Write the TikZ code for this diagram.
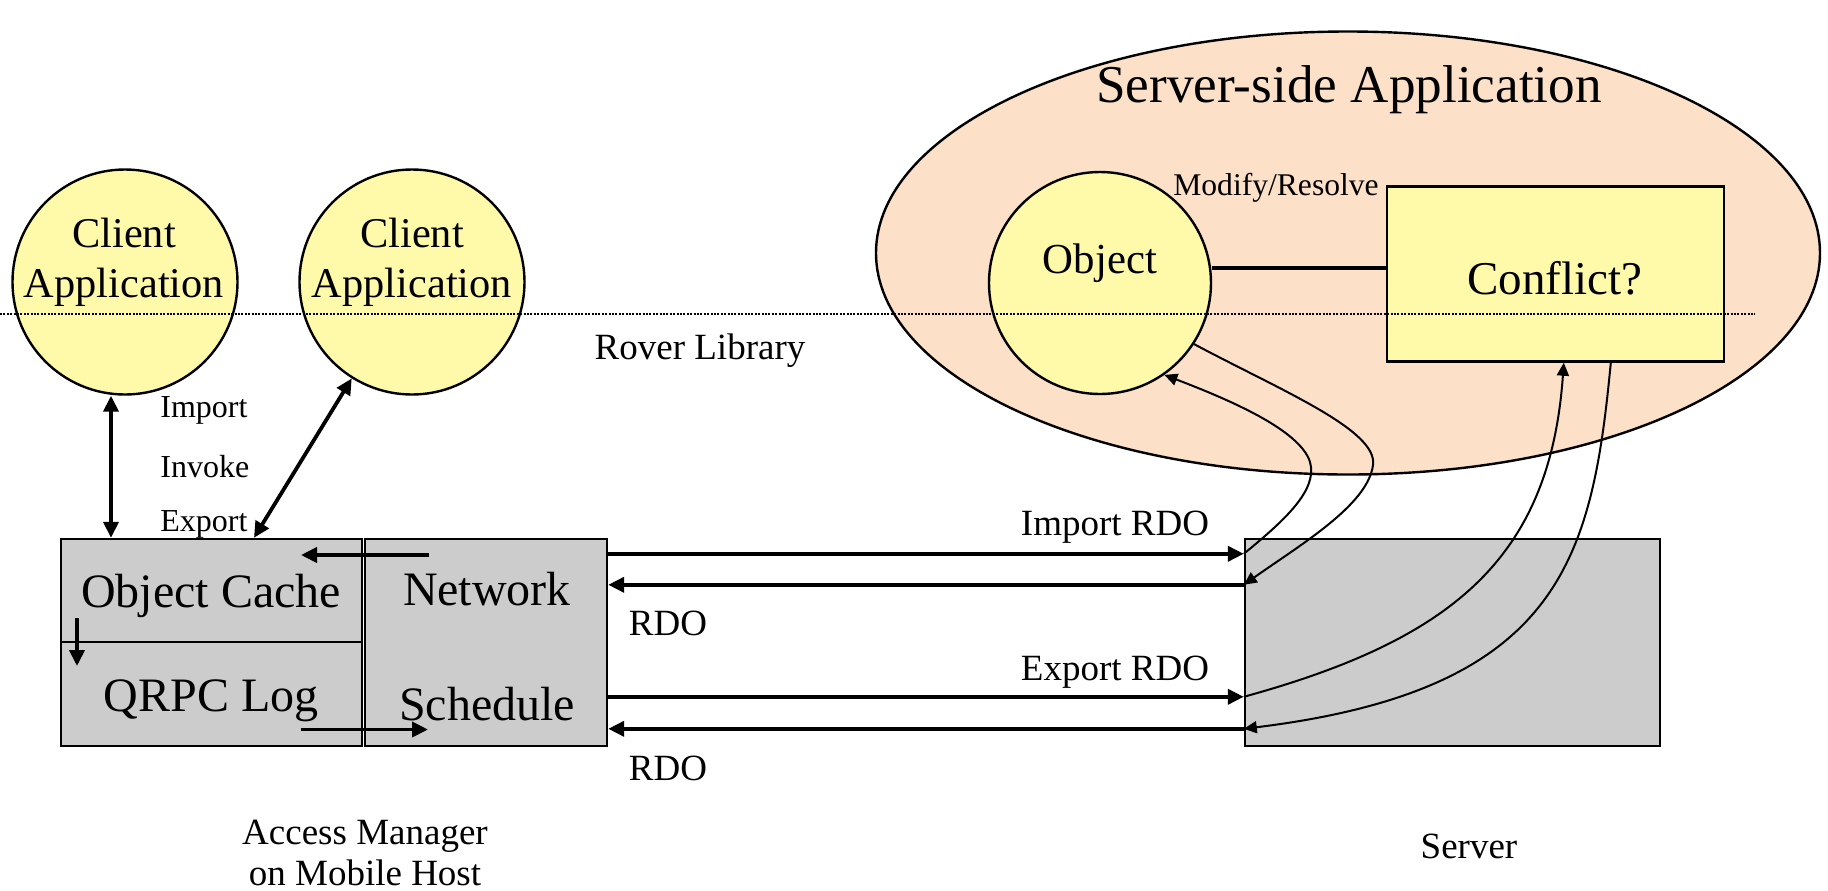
\documentclass[tikz,border=0pt]{standalone}
\usepackage{fontspec}
\setmainfont{Liberation Serif}
\usetikzlibrary{arrows.meta,shapes.geometric,calc}
\definecolor{appyellow}{RGB}{255,250,170}
\definecolor{boxgray}{RGB}{204,204,204}
\definecolor{peach}{RGB}{253,224,200}
\tikzset{
  txt/.style={inner sep=0pt, font=\fontsize{#1}{#1}\selectfont, align=center, yshift=-2pt},
  clientc/.style={circle, draw, line width=1.2pt, fill=appyellow, minimum size=112.5pt, inner sep=0pt},
  graybox/.style={rectangle, draw, line width=1.2pt, fill=boxgray, inner sep=0pt},
  fat/.style={line width=1.9pt, -{Triangle[length=8pt,width=7.5pt]}},
  fatboth/.style={line width=1.9pt, {Triangle[length=8pt,width=7.5pt]}-{Triangle[length=8pt,width=7.5pt]}},
  thin/.style={line width=1pt, -{Triangle[length=6.5pt,width=6pt]}},
}
\begin{document}
\begin{tikzpicture}[x=0.5pt,y=-0.5pt]
\useasboundingbox (0,0) rectangle (1828,890);

% server-side application area
\node[ellipse, draw, line width=1.2pt, fill=peach, minimum width=472pt, minimum height=221.5pt, inner sep=0pt] (sapp) at (1348,253) {};
\node[txt=26.6] (sapptxt) at (1349,86) {Server-side Application};

\node[clientc, minimum size=111pt] (obj) at (1100,283) {};
\node[txt=21.4] (objtxt) at (1100,259) {Object};
\node[rectangle, draw, line width=1.2pt, fill=appyellow, minimum width=168.5pt, minimum height=87.5pt, inner sep=0pt] (cf) at (1555.5,274) {};
\node[txt=23.5] (cftxt) at (1555,274) {Conflict?};
\draw[line width=1.8pt] (obj.east |- 0,268) -- (cf.west |- 0,268);
\node[txt=15.8] (modres) at (1276,184) {Modify/Resolve};

% client applications
\node[clientc] (c1) at (125,282) {};
\node[txt=21.2, font=\fontsize{21.2}{25}\selectfont] (c1txt) at (124,258) {Client\\Application};
\node[clientc] (c2) at (412,282) {};
\node[txt=21.2, font=\fontsize{21.2}{25}\selectfont] (c2txt) at (412,258) {Client\\Application};

% library boundary
\draw[line width=1.2pt, dash pattern=on 0.95pt off 0.75pt] (0,314) coordinate (dl0) -- (1755,314) coordinate (dl1);
\node[txt=18.5] (rover) at (700,347) {Rover Library};

% access manager
\node[graybox, minimum width=150.5pt, minimum height=51.5pt] (oc) at (211.5,590.5) {};
\node[graybox, minimum width=150.5pt, minimum height=52pt] (ql) at (211.5,694) {};
\node[graybox, minimum width=121pt, minimum height=103.5pt] (net) at (486,642.5) {};
\node[txt=24] at (211,592) {Object Cache};
\node[txt=24] at (211,697) {QRPC Log};
\node[txt=24] at (487,585) {Network};
\node[txt=24] at (487,700) {Schedule};

% server
\node[graybox, minimum width=207.5pt, minimum height=103.5pt] (srv) at (1452.5,642.5) {};

% labels
\node[txt=18.5, font=\fontsize{18.5}{20.4}\selectfont] (am) at (365,849) {Access Manager\\on Mobile Host};
\node[txt=18.5] (srvlbl) at (1469,842) {Server};
\node[txt=16, anchor=west] at (160,406) {Import};
\node[txt=16, anchor=west] at (160,463) {Invoke};
\node[txt=16, anchor=west] at (160,520) {Export};

% client connectors
\draw[fatboth] (c1.south -| 111,0) -- (oc.north -| 111,0);
\draw[fatboth] (c2.-122) -- (oc.north -| 254,0);

% internal flows
\draw[fat] (429,555) coordinate (n0) -- (301,555) coordinate (n1);
\draw[fat] (77,618) coordinate (d0) -- (77,666) coordinate (d1);
\draw[fat] (301,729.5) coordinate (s0) -- (428,729.5) coordinate (s1);

% network traffic
\path (net.north east) ++(0,16) coordinate (i0);
\path (srv.north west) ++(0,16) coordinate (i1);
\path (srv.north west) ++(0,47) coordinate (r0);
\path (net.north east) ++(0,47) coordinate (r1);
\path (net.north east) ++(0,159) coordinate (e0);
\path (srv.north west) ++(0,159) coordinate (e1);
\path (srv.north west) ++(0,191) coordinate (b0);
\path (net.north east) ++(0,191) coordinate (b1);
\draw[fat] (i0) -- (i1);
\draw[fat] (r0) -- (r1);
\draw[fat] (e0) -- (e1);
\draw[fat] (b0) -- (b1);
\node[txt=18.5] at (1115,523) {Import RDO};
\node[txt=18.5] at (668,619) {RDO};
\node[txt=18.5] at (1115,668) {Export RDO};
\node[txt=18.5] at (668,764) {RDO};

% server-side handling
\draw[thin] (i1) .. controls (1285,520) and (1318,490) .. (1310,462)
               .. controls (1300,430) and (1230,400) .. (obj.-55);
\draw[thin] (obj.-33) .. controls (1280,390) and (1378,430) .. (1373,465)
               .. controls (1368,505) and (1300,545) .. (r0);
\draw[thin] (e1) .. controls (1450,640) and (1550,560) .. ($(cf.south west)+(178,0)$);
\draw[thin] ($(cf.south west)+(225,0)$) .. controls (1592,560) and (1560,690) .. (b0);
\end{tikzpicture}
\end{document}
